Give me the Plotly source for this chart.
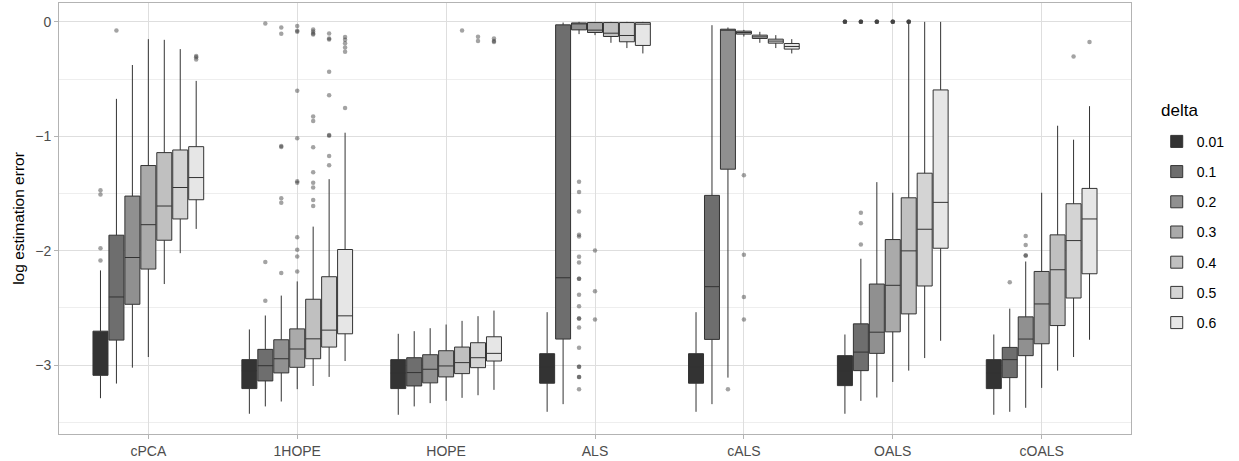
import plotly.graph_objects as go

categories = ["cPCA", "1HOPE", "HOPE", "ALS", "cALS", "OALS", "cOALS"]
deltas = ["0.01", "0.1", "0.2", "0.3", "0.4", "0.5", "0.6"]
colors = ["#333333", "#6E6E6E", "#909090", "#AAAAAA", "#C0C0C0", "#D4D4D4", "#E6E6E6"]

# one row per delta, one value per category
q1 = [
    [-3.090, -3.206, -3.206, -3.159, -3.159, -3.180, -3.206],
    [-2.782, -3.139, -3.183, -2.773, -2.776, -3.049, -3.110],
    [-2.469, -3.069, -3.156, -0.070, -1.288, -2.898, -2.918],
    [-2.161, -3.020, -3.104, -0.093, -0.107, -2.710, -2.814],
    [-1.909, -2.945, -3.075, -0.128, -0.145, -2.553, -2.655],
    [-1.723, -2.843, -3.023, -0.174, -0.186, -2.309, -2.414],
    [-1.555, -2.727, -2.965, -0.206, -0.238, -1.979, -2.202],
]
median = [
    [-2.900, -3.050, -3.070, -3.020, -3.020, -3.050, -3.070],
    [-2.405, -3.006, -3.066, -2.237, -2.315, -2.887, -2.953],
    [-2.060, -2.945, -3.037, -0.017, -0.073, -2.713, -2.773],
    [-1.773, -2.860, -3.008, -0.072, -0.093, -2.303, -2.466],
    [-1.610, -2.771, -2.979, -0.099, -0.131, -2.002, -2.167],
    [-1.448, -2.695, -2.936, -0.119, -0.168, -1.813, -1.912],
    [-1.361, -2.570, -2.898, -0.020, -0.215, -1.578, -1.723],
]
q3 = [
    [-2.704, -2.953, -2.953, -2.901, -2.901, -2.918, -2.953],
    [-1.865, -2.863, -2.936, -0.026, -1.517, -2.640, -2.846],
    [-1.523, -2.779, -2.910, -0.009, -0.064, -2.292, -2.579],
    [-1.256, -2.684, -2.875, -0.006, -0.081, -1.903, -2.182],
    [-1.143, -2.425, -2.843, -0.006, -0.116, -1.538, -1.862],
    [-1.120, -2.228, -2.805, -0.006, -0.151, -1.323, -1.590],
    [-1.091, -1.990, -2.753, -0.006, -0.189, -0.595, -1.456],
]
lower_whisker = [
    [-3.290, -3.426, -3.435, -3.409, -3.409, -3.426, -3.435],
    [-3.162, -3.362, -3.362, -3.342, -3.342, -3.313, -3.409],
    [-3.023, -3.319, -3.333, -0.107, -3.110, -3.284, -3.374],
    [-2.930, -3.211, -3.313, -0.116, -0.128, -3.148, -3.200],
    [-2.292, -3.183, -3.287, -0.183, -0.183, -3.049, -3.049],
    [-2.022, -3.104, -3.264, -0.229, -0.229, -2.939, -2.930],
    [-1.810, -2.965, -3.217, -0.276, -0.276, -2.788, -2.779],
]
upper_whisker = [
    [-2.173, -2.689, -2.727, -2.538, -2.538, -2.733, -2.733],
    [-0.673, -2.567, -2.704, -0.006, -0.029, -2.071, -2.507],
    [-0.377, -2.393, -2.678, 0.000, -0.049, -1.401, -2.095],
    [-0.151, -2.269, -2.646, 0.000, -0.070, -1.494, -1.494],
    [-0.157, -1.790, -2.614, 0.000, -0.087, -0.006, -0.908],
    [-0.238, -1.375, -2.573, 0.000, -0.116, 0.000, -1.030],
    [-0.516, -0.969, -2.524, 0.000, -0.151, 0.000, -0.737],
]

# outliers per delta: category names and values
outlier_cat = [
    ["cPCA"] * 4 + ["OALS"] * 4,
    ["cPCA"] + ["1HOPE"] * 3 + ["OALS"] * 7 + ["cOALS"],
    ["1HOPE"] * 7 + ["ALS"] * 20 + ["cALS"] + ["OALS"] * 4 + ["cOALS"] * 4,
    ["1HOPE"] * 11 + ["ALS"] * 3 + ["cALS"] * 4 + ["OALS"] * 4,
    ["1HOPE"] * 12 + ["HOPE"] + ["OALS"] * 4,
    ["1HOPE"] * 9 + ["HOPE"] * 2 + ["cOALS"],
    ["cPCA"] * 3 + ["1HOPE"] * 6 + ["HOPE"] * 3 + ["cOALS"],
]
outlier_val = [
    [-1.471, -1.509, -1.979, -2.086, 0.0, 0.0, 0.0, 0.0],
    [-0.075, -0.015, -2.100, -2.437, 0.0, 0.0, 0.0, 0.0, -1.668, -1.761, -1.947, -2.277],
    [-0.049, -0.104, -1.085, -1.094, -1.543, -1.581, -2.196,
     -1.398, -1.488, -1.657, -1.860, -1.877, -2.054, -2.103, -2.245, -2.245, -2.385,
     -2.486, -2.594, -2.594, -2.672, -2.849, -3.014, -3.014, -3.104, -3.104, -3.212,
     -3.212, 0.0, 0.0, 0.0, 0.0, -1.871, -1.950, -2.042, -2.042],
    [-0.035, -0.078, -0.087, -0.603, -1.018, -1.393, -1.407, -1.883, -1.993, -2.051, -2.182,
     -1.999, -2.356, -2.602, -1.340, -2.037, -2.405, -2.602, 0.0, 0.0, 0.0, 0.0],
    [-0.067, -0.084, -0.102, -0.110, -0.827, -0.867, -1.097, -1.314, -1.407, -1.448,
     -1.558, -1.610, -0.075, 0.0, 0.0, 0.0, 0.0],
    [-0.102, -0.145, -0.154, -0.435, -0.641, -0.989, -0.995, -1.172, -1.253,
     -0.131, -0.168, -0.302],
    [-0.299, -0.310, -0.328, -0.133, -0.157, -0.186, -0.223, -0.261, -0.754,
     -0.145, -0.168, -0.177, -0.177],
]

fig = go.Figure()
for i, d in enumerate(deltas):
    fig.add_trace(go.Box(
        name=d,
        x=categories,
        q1=q1[i], median=median[i], q3=q3[i],
        lowerfence=lower_whisker[i], upperfence=upper_whisker[i],
        boxpoints=False,
        fillcolor=colors[i],
        line=dict(color="#333333", width=1),
        whiskerwidth=0,
        offsetgroup=d,
        legendgroup=d,
        hoverinfo="y",
    ))
for i, d in enumerate(deltas):
    fig.add_trace(go.Scatter(
        x=outlier_cat[i], y=outlier_val[i],
        mode="markers",
        marker=dict(color="rgba(51,51,51,0.45)", size=4.5, line=dict(width=0)),
        offsetgroup=d,
        legendgroup=d,
        showlegend=False,
        hoverinfo="y",
    ))

font_family = "Liberation Sans, Arial, sans-serif"
fig.update_layout(
    width=1239, height=461,
    margin=dict(l=59, r=108, t=2, b=26),
    paper_bgcolor="white", plot_bgcolor="white",
    boxmode="group", boxgap=0.25, boxgroupgap=0.06,
    scattermode="group", scattergap=0.25,
    font=dict(family=font_family, color="#4D4D4D", size=14),
    legend=dict(
        font=dict(size=14, color="black"),
        x=1.024, xanchor="left", y=0.468, yanchor="middle",
        tracegroupgap=9,
        bgcolor="rgba(0,0,0,0)",
    ),
    showlegend=True,
    annotations=[dict(
        text="delta", xref="paper", yref="paper", x=1.0265, y=0.751,
        xanchor="left", yanchor="middle", showarrow=False,
        font=dict(size=17, color="black"),
    )],
)
fig.update_xaxes(
    type="category", categoryorder="array", categoryarray=categories,
    range=[-0.6, 6.6],
    showgrid=True, gridcolor="#DEDEDE", gridwidth=1,
    showline=True, linecolor="#B3B3B3", linewidth=1, mirror=True,
    ticks="outside", ticklen=4, tickcolor="#B3B3B3",
    tickfont=dict(size=14, color="#4D4D4D"),
    zeroline=False,
)
fig.update_yaxes(
    range=[-3.603, 0.165],
    tickvals=[0, -1, -2, -3],
    showgrid=True, gridcolor="#DEDEDE", gridwidth=1,
    minor=dict(tickvals=[-0.5, -1.5, -2.5, -3.5], showgrid=True,
               gridcolor="#EEEEEE", gridwidth=0.6, ticks=""),
    showline=True, linecolor="#B3B3B3", linewidth=1, mirror=True,
    ticks="outside", ticklen=4, tickcolor="#B3B3B3",
    tickfont=dict(size=14, color="#4D4D4D"),
    title=dict(text="log estimation error", font=dict(size=15.5, color="black"), standoff=6),
    zeroline=False,
)

fig.write_html("out.html", config={"displayModeBar": False},
               post_script="document.body.style.margin='0';")
